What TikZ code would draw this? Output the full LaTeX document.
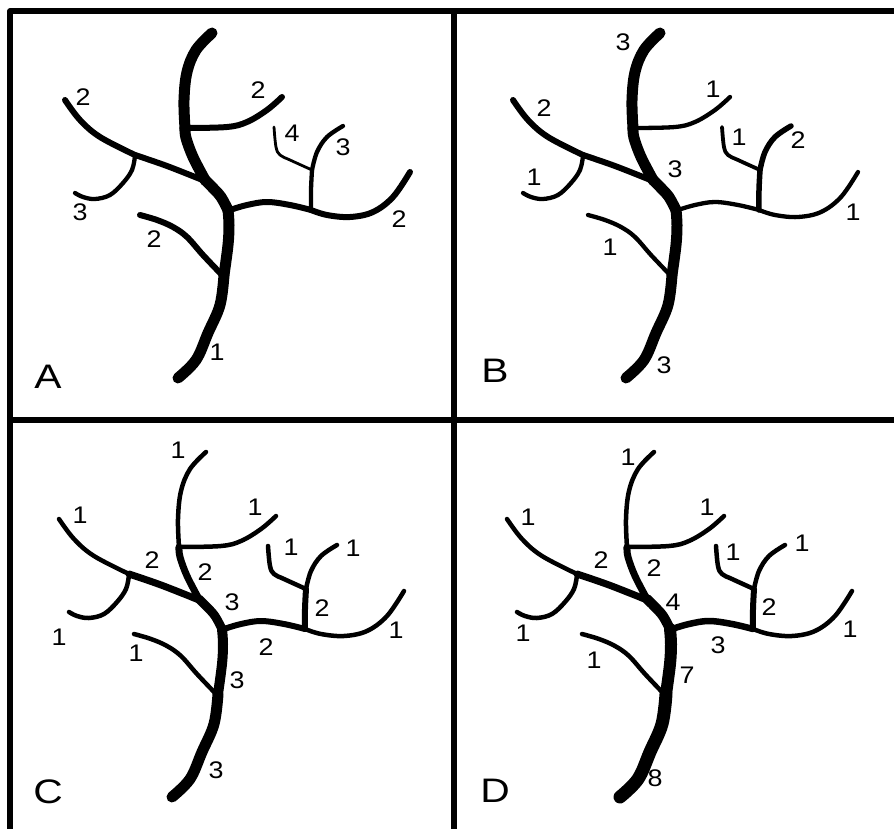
\documentclass[tikz,border=0pt]{standalone}
\usepackage{fontspec}
\setmainfont{Liberation Sans}
\newcommand\numtxt[1]{\scalebox{1.12}[1]{#1}}
\newcommand\pantxt[1]{\scalebox{1.2}[1]{#1}}
\begin{document}
\begin{tikzpicture}[x=1pt,y=-1pt,line cap=round,line join=round,
  num/.style={font=\fontsize{24}{28}\selectfont,inner sep=0pt},
  panel/.style={font=\fontsize{34}{38}\selectfont,inner sep=0pt},
  frame/.style={line width=5.5pt,line cap=butt}]
\useasboundingbox (0,0) rectangle (894,829);
\clip (0,0) rectangle (894,829);
\fill[white] (0,0) rectangle (894,829);
% frame
\coordinate (tl) at (10,11);
\coordinate (tr) at (900,11);
\coordinate (bl) at (10,840);
\coordinate (vt) at (454,11);
\coordinate (vb) at (454,840);
\coordinate (hl) at (10,420);
\coordinate (hr) at (900,420);
\draw[frame] (bl) -- (tl) -- (tr);
\draw[frame] (vt) -- (vb);
\draw[frame] (hl) -- (hr);
\newcommand\drawtree{%
 \draw[wtra] plot[smooth,tension=0.6] coordinates {(178,378) (196,360) (208,333) (220,305) (224,275)};
 \draw[wtrb] plot[smooth,tension=0.6] coordinates {(224,275) (228,245) (229,225) (228,210)};
 \draw[wtrc] plot[smooth,tension=0.6] coordinates {(228,210) (221,197) (213,188) (205,180)};
 \draw[wtrd] plot[smooth,tension=0.6] coordinates {(205,180) (193,157) (186,138) (185,128)};
 \draw[wtre] plot[smooth,tension=0.6] coordinates {(185,128) (184,100) (187,72) (196,50) (212,33)};
 \draw[wlout] plot[smooth,tension=0.6] coordinates {(65,100) (80,120) (100,137) (135,155)};
 \draw[wlin] plot[smooth,tension=0.6] coordinates {(135,155) (167,166) (205,181)};
 \draw[wlsm] plot[smooth,tension=0.6] coordinates {(135,156) (132,170) (123,183) (110,195) (95,199) (83,197) (75,193)};
 \draw[wupr] plot[smooth,tension=0.6] coordinates {(186,128) (227,127) (247,122) (267,110) (282,97)};
 \draw[wlowl] plot[smooth,tension=0.6] coordinates {(140,215) (157,220) (173,227) (187,237) (203,255) (222,275)};
 \draw[wrin] plot[smooth,tension=0.6] coordinates {(230,210) (247,205) (267,202) (290,205) (311,210)};
 \draw[wrout] plot[smooth,tension=0.6] coordinates {(311,210) (327,215) (350,217) (373,212) (393,197) (410,172)};
 \draw[wstb] plot[smooth,tension=0.6] coordinates {(311,210) (311,190) (312,170)};
 \draw[wstt] plot[smooth,tension=0.6] coordinates {(312,170) (317,152) (327,137) (343,126)};
 \draw[wtwg] plot[smooth,tension=0.6] coordinates {(312,170) (290,160) (280,155) (276,147) (274,127)};
}
% Panel A
\begin{scope}[wtra/.style={line width=11pt},wtrb/.style={line width=11pt},wtrc/.style={line width=11pt},
  wtrd/.style={line width=11pt},wtre/.style={line width=11pt},wlout/.style={line width=6pt},wlin/.style={line width=6pt},
  wlsm/.style={line width=4.3pt},wupr/.style={line width=6pt},wlowl/.style={line width=6pt},wrin/.style={line width=6pt},
  wrout/.style={line width=6pt},wstb/.style={line width=4.3pt},wstt/.style={line width=4.3pt},wtwg/.style={line width=2.8pt}]
\drawtree
\end{scope}
% Panel B
\begin{scope}[shift={(448,0)},wtra/.style={line width=11pt},wtrb/.style={line width=11pt},wtrc/.style={line width=11pt},
  wtrd/.style={line width=11pt},wtre/.style={line width=11pt},wlout/.style={line width=6pt},wlin/.style={line width=6pt},
  wlsm/.style={line width=4.3pt},wupr/.style={line width=4.3pt},wlowl/.style={line width=4.3pt},wrin/.style={line width=4.3pt},
  wrout/.style={line width=4.3pt},wstb/.style={line width=5.5pt},wstt/.style={line width=5.5pt},wtwg/.style={line width=3.8pt}]
\drawtree
\end{scope}
% Panel C
\begin{scope}[shift={(-6,419)},wtra/.style={line width=11pt},wtrb/.style={line width=10pt},wtrc/.style={line width=9pt},
  wtrd/.style={line width=7pt},wtre/.style={line width=4.5pt},wlout/.style={line width=4.5pt},wlin/.style={line width=7pt},
  wlsm/.style={line width=4.5pt},wupr/.style={line width=4.5pt},wlowl/.style={line width=4.5pt},wrin/.style={line width=6pt},
  wrout/.style={line width=4.5pt},wstb/.style={line width=6pt},wstt/.style={line width=4.5pt},wtwg/.style={line width=4.5pt}]
\drawtree
\end{scope}
% Panel D
\begin{scope}[shift={(442,419)},wtra/.style={line width=13pt},wtrb/.style={line width=12pt},wtrc/.style={line width=10pt},
  wtrd/.style={line width=7pt},wtre/.style={line width=4.5pt},wlout/.style={line width=4.5pt},wlin/.style={line width=7pt},
  wlsm/.style={line width=4.5pt},wupr/.style={line width=4.5pt},wlowl/.style={line width=4.5pt},wrin/.style={line width=6.5pt},
  wrout/.style={line width=4.5pt},wstb/.style={line width=6pt},wstt/.style={line width=4.5pt},wtwg/.style={line width=4.5pt}]
\drawtree
\end{scope}
% Labels A
\node[panel] (pA) at (48,377) {\pantxt{A}};
\node[num] (a1) at (83,97) {\numtxt{2}};
\node[num] (a2) at (258,90) {\numtxt{2}};
\node[num] (a3) at (292,133) {\numtxt{4}};
\node[num] (a4) at (343,147) {\numtxt{3}};
\node[num] (a5) at (80,212) {\numtxt{3}};
\node[num] (a6) at (154,239) {\numtxt{2}};
\node[num] (a7) at (399,219) {\numtxt{2}};
\node[num] (a8) at (217,352) {\numtxt{1}};
% Labels B
\node[panel] (pB) at (495,371) {\pantxt{B}};
\node[num] (b1) at (623,42) {\numtxt{3}};
\node[num] (b2) at (713,89) {\numtxt{1}};
\node[num] (b3) at (544,108) {\numtxt{2}};
\node[num] (b4) at (739,137) {\numtxt{1}};
\node[num] (b5) at (798,140) {\numtxt{2}};
\node[num] (b6) at (675,169) {\numtxt{3}};
\node[num] (b7) at (534,177) {\numtxt{1}};
\node[num] (b8) at (853,212) {\numtxt{1}};
\node[num] (b9) at (610,247) {\numtxt{1}};
\node[num] (b10) at (664,365) {\numtxt{3}};
% Labels C
\node[panel] (pC) at (48,792) {\pantxt{C}};
\node[num] (c1) at (178,450) {\numtxt{1}};
\node[num] (c2) at (255,507) {\numtxt{1}};
\node[num] (c3) at (80,515) {\numtxt{1}};
\node[num] (c4) at (291,547) {\numtxt{1}};
\node[num] (c5) at (353,548) {\numtxt{1}};
\node[num] (c6) at (152,560) {\numtxt{2}};
\node[num] (c7) at (205,572) {\numtxt{2}};
\node[num] (c8) at (232,602) {\numtxt{3}};
\node[num] (c9) at (322,608) {\numtxt{2}};
\node[num] (c10) at (59,637) {\numtxt{1}};
\node[num] (c11) at (396,630) {\numtxt{1}};
\node[num] (c12) at (266,647) {\numtxt{2}};
\node[num] (c13) at (136,653) {\numtxt{1}};
\node[num] (c14) at (237,680) {\numtxt{3}};
\node[num] (c15) at (216,770) {\numtxt{3}};
% Labels D
\node[panel] (pD) at (495,791) {\pantxt{D}};
\node[num] (d1) at (628,457) {\numtxt{1}};
\node[num] (d2) at (707,507) {\numtxt{1}};
\node[num] (d3) at (528,517) {\numtxt{1}};
\node[num] (d4) at (733,552) {\numtxt{1}};
\node[num] (d5) at (802,543) {\numtxt{1}};
\node[num] (d6) at (601,560) {\numtxt{2}};
\node[num] (d7) at (654,568) {\numtxt{2}};
\node[num] (d8) at (673,602) {\numtxt{4}};
\node[num] (d9) at (769,607) {\numtxt{2}};
\node[num] (d10) at (523,633) {\numtxt{1}};
\node[num] (d11) at (850,629) {\numtxt{1}};
\node[num] (d12) at (718,645) {\numtxt{3}};
\node[num] (d13) at (594,660) {\numtxt{1}};
\node[num] (d14) at (687,675) {\numtxt{7}};
\node[num] (d15) at (655,778) {\numtxt{8}};
\end{tikzpicture}
\end{document}
